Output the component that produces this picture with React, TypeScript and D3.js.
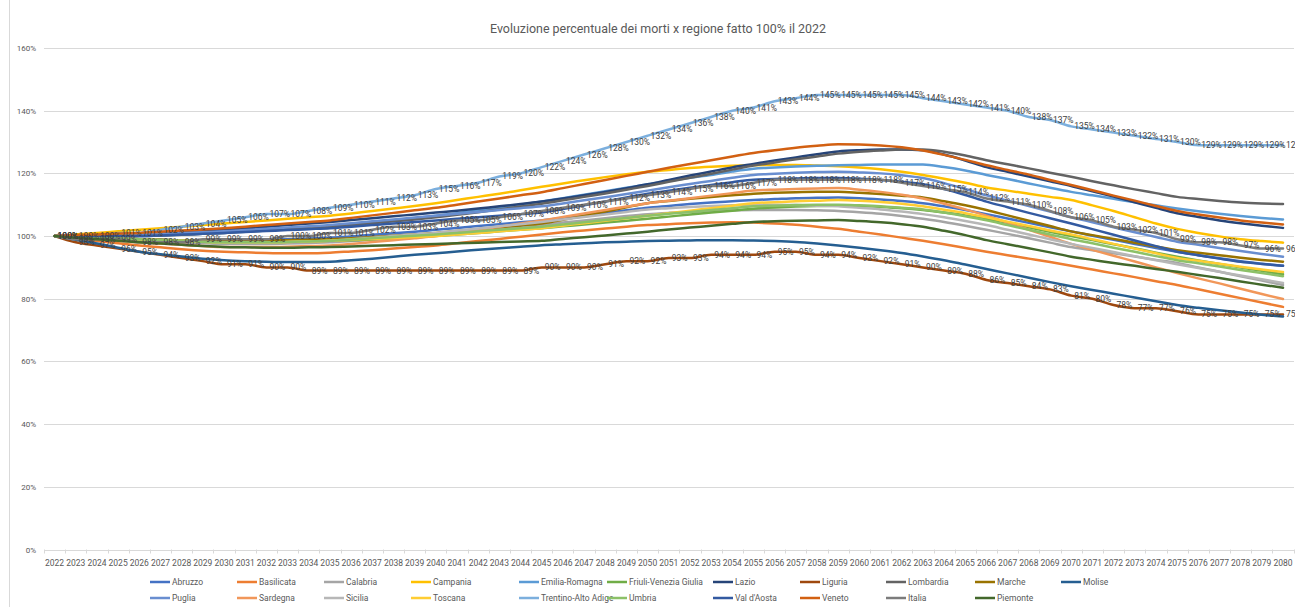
import { useEffect, useRef } from "react";
import * as d3 from "d3";

// Categories (years)
const years = [
  "2022", "2023", "2024", "2025", "2026", "2027", "2028", "2029", "2030", "2031",
  "2032", "2033", "2034", "2035", "2036", "2037", "2038", "2039", "2040", "2041",
  "2042", "2043", "2044", "2045", "2046", "2047", "2048", "2049", "2050", "2051",
  "2052", "2053", "2054", "2055", "2056", "2057", "2058", "2059", "2060", "2061",
  "2062", "2063", "2064", "2065", "2066", "2067", "2068", "2069", "2070", "2071",
  "2072", "2073", "2074", "2075", "2076", "2077", "2078", "2079", "2080",
];

const yTicks = [0, 20, 40, 60, 80, 100, 120, 140, 160];

// Series values (% of 2022)
const abruzzo = [100, 99.7, 99.4, 99.2, 99.0, 98.8, 98.6, 98.5, 98.5, 98.6, 98.8, 99.0, 99.2, 99.5, 99.9, 100.4, 100.9, 101.4, 102.0, 102.6, 103.2, 103.8, 104.4, 105.0, 105.8, 106.6, 107.4, 108.2, 109.0, 109.6, 110.2, 110.7, 111.1, 111.5, 111.8, 112.1, 112.2, 112.3, 112.1, 111.7, 111.2, 110.5, 109.5, 108.3, 107.0, 105.6, 104.2, 102.8, 101.5, 100.1, 98.8, 97.5, 96.2, 95.0, 93.9, 92.9, 92.0, 91.2, 90.5];
const basilicata = [100, 99.2, 98.4, 97.7, 97.0, 96.4, 95.8, 95.3, 95.0, 94.8, 94.6, 94.5, 94.5, 94.7, 95.1, 95.5, 96.0, 96.5, 97.0, 97.7, 98.4, 99.1, 99.8, 100.5, 101.2, 101.8, 102.4, 103.0, 103.5, 103.8, 104.1, 104.3, 104.4, 104.3, 104.0, 103.6, 103.0, 102.3, 101.4, 100.5, 99.5, 98.5, 97.4, 96.2, 95.0, 93.9, 92.8, 91.7, 90.5, 89.3, 88.1, 86.9, 85.6, 84.4, 83.0, 81.6, 80.2, 78.8, 77.4];
const calabria = [100, 99.6, 99.2, 98.9, 98.5, 98.2, 97.9, 97.7, 97.5, 97.5, 97.5, 97.6, 97.8, 98.0, 98.4, 98.8, 99.3, 99.8, 100.3, 100.9, 101.6, 102.2, 102.9, 103.5, 104.3, 105.0, 105.7, 106.4, 107.0, 107.4, 107.7, 108.0, 108.2, 108.3, 108.3, 108.3, 108.2, 108.0, 107.6, 107.1, 106.4, 105.5, 104.5, 103.3, 102.0, 100.7, 99.3, 97.9, 96.5, 95.5, 94.5, 93.5, 92.4, 91.4, 90.0, 88.6, 87.2, 85.8, 84.4];
const campania = [100, 100.5, 101.0, 101.5, 102.0, 102.5, 103.0, 103.5, 104.0, 104.5, 105.0, 105.5, 106.0, 106.5, 107.2, 108.0, 108.8, 109.6, 110.5, 111.5, 112.5, 113.5, 114.6, 115.7, 116.8, 117.8, 118.8, 119.7, 120.5, 121.1, 121.7, 122.1, 122.4, 122.6, 122.7, 122.7, 122.5, 122.3, 121.9, 121.3, 120.5, 119.5, 118.3, 117.0, 115.5, 114.5, 113.5, 112.5, 111.5, 109.8, 108.0, 106.0, 104.0, 102.3, 101.0, 99.9, 99.0, 98.4, 97.9];
const emilia = [100, 100.0, 100.0, 100.0, 100.0, 100.2, 100.4, 100.7, 101.0, 101.4, 101.8, 102.2, 102.6, 103.0, 103.6, 104.3, 105.0, 105.7, 106.5, 107.3, 108.2, 109.1, 110.0, 111.0, 112.1, 113.2, 114.3, 115.4, 116.5, 117.6, 118.6, 119.5, 120.6, 121.5, 121.9, 122.2, 122.4, 122.6, 122.7, 122.8, 122.8, 122.8, 122.0, 120.9, 119.5, 118.2, 116.8, 115.4, 114.1, 113.0, 111.9, 110.8, 109.8, 108.8, 107.9, 107.1, 106.4, 105.8, 105.3];
const friuli = [100, 99.7, 99.5, 99.2, 99.0, 98.8, 98.6, 98.5, 98.5, 98.4, 98.4, 98.4, 98.4, 98.5, 98.7, 98.9, 99.2, 99.6, 100.0, 100.5, 101.0, 101.5, 102.0, 102.5, 103.1, 103.7, 104.3, 104.9, 105.5, 106.2, 106.9, 107.5, 108.1, 108.7, 109.1, 109.4, 109.6, 109.7, 109.6, 109.3, 108.9, 108.3, 107.5, 106.6, 105.5, 104.2, 102.8, 101.4, 100.0, 98.7, 97.4, 96.1, 94.7, 93.4, 92.2, 91.1, 90.0, 88.9, 87.8];
const lazio = [100, 100.1, 100.2, 100.3, 100.5, 100.8, 101.1, 101.5, 102.0, 102.5, 103.0, 103.5, 104.0, 104.5, 105.1, 105.7, 106.3, 106.9, 107.5, 108.1, 108.8, 109.5, 110.2, 111.0, 112.0, 113.0, 114.1, 115.3, 116.5, 117.9, 119.3, 120.6, 121.9, 123.0, 124.1, 125.1, 126.1, 127.0, 127.4, 127.6, 127.6, 127.4, 126.0, 124.1, 122.0, 120.5, 119.0, 117.5, 116.0, 114.3, 112.6, 110.8, 109.0, 107.3, 106.1, 105.0, 104.1, 103.3, 102.6];
const liguria = [100, 98, 97, 96, 95, 94, 93, 92, 91, 91, 90, 90, 89, 89, 89, 89, 89, 89, 89, 89, 89, 89, 89, 90, 90, 90, 91, 92, 92, 93, 93, 94, 94, 94, 95, 95, 94, 94, 93, 92, 91, 90, 89, 88, 86, 85, 84, 83, 81, 80, 78, 77, 77, 76, 75, 75, 75, 75, 75];
const lombardia = [100, 100.0, 100.0, 100.0, 100.0, 100.2, 100.4, 100.7, 101.0, 101.4, 101.8, 102.2, 102.6, 103.0, 103.5, 104.1, 104.7, 105.3, 106.0, 106.8, 107.6, 108.5, 109.4, 110.3, 111.4, 112.5, 113.6, 114.8, 116.0, 117.3, 118.6, 119.9, 121.2, 122.5, 123.5, 124.5, 125.4, 126.3, 126.9, 127.3, 127.6, 127.6, 126.9, 125.7, 124.2, 122.9, 121.6, 120.2, 118.9, 117.5, 116.2, 114.9, 113.7, 112.5, 111.8, 111.2, 110.7, 110.4, 110.2];
const marche = [100, 99.7, 99.5, 99.2, 99.0, 98.8, 98.6, 98.5, 98.5, 98.5, 98.6, 98.7, 98.8, 99.0, 99.3, 99.7, 100.1, 100.5, 101.0, 101.6, 102.2, 102.8, 103.4, 104.0, 105.2, 106.5, 107.8, 109.2, 110.5, 111.2, 111.9, 112.5, 113.0, 113.5, 113.8, 114.0, 114.1, 114.1, 113.8, 113.4, 112.9, 112.3, 111.1, 109.8, 108.3, 106.6, 104.9, 103.2, 101.5, 100.3, 99.1, 97.9, 96.7, 95.5, 94.7, 93.9, 93.1, 92.4, 91.8];
const molise = [100, 98.8, 97.6, 96.3, 95.0, 94.2, 93.5, 92.8, 92.3, 92.0, 91.8, 91.7, 91.7, 91.8, 92.3, 92.8, 93.4, 94.0, 94.5, 95.1, 95.6, 96.1, 96.6, 97.1, 97.4, 97.7, 98.0, 98.2, 98.4, 98.5, 98.6, 98.7, 98.7, 98.6, 98.4, 98.1, 97.6, 97.0, 96.3, 95.5, 94.6, 93.5, 92.3, 90.9, 89.5, 88.1, 86.7, 85.3, 84.0, 82.8, 81.6, 80.4, 79.2, 78.0, 77.1, 76.3, 75.6, 74.9, 74.3];
const puglia = [100, 100.1, 100.2, 100.3, 100.5, 100.7, 101.0, 101.2, 101.5, 101.9, 102.3, 102.7, 103.1, 103.5, 104.1, 104.7, 105.3, 105.9, 106.5, 107.1, 107.7, 108.3, 108.9, 109.5, 110.4, 111.4, 112.4, 113.4, 114.5, 115.6, 116.6, 117.6, 118.6, 119.5, 119.9, 120.2, 120.4, 120.5, 120.3, 120.0, 119.4, 118.5, 116.9, 115.0, 113.0, 111.3, 109.6, 107.8, 106.0, 104.4, 102.8, 101.2, 99.7, 98.2, 97.2, 96.2, 95.2, 94.3, 93.4];
const sardegna = [100, 99.5, 99.0, 98.5, 98.0, 97.6, 97.2, 96.8, 96.5, 96.5, 96.5, 96.6, 96.8, 97.0, 97.5, 98.1, 98.7, 99.3, 100.0, 101.0, 102.0, 103.0, 104.0, 105.0, 106.1, 107.2, 108.3, 109.4, 110.5, 111.3, 112.1, 112.9, 113.7, 114.5, 114.8, 115.0, 115.2, 115.3, 114.8, 114.1, 113.2, 112.0, 110.3, 108.5, 106.5, 104.3, 102.0, 99.8, 97.5, 95.6, 93.7, 91.9, 90.0, 88.2, 86.5, 84.9, 83.2, 81.5, 79.9];
const sicilia = [100, 99.8, 99.5, 99.3, 99.0, 98.7, 98.5, 98.2, 98.0, 98.0, 98.0, 98.1, 98.3, 98.5, 99.0, 99.5, 100.0, 100.5, 101.0, 101.7, 102.4, 103.1, 103.8, 104.5, 105.3, 106.1, 106.9, 107.7, 108.5, 108.9, 109.3, 109.6, 109.8, 110.0, 110.0, 109.9, 109.7, 109.5, 109.0, 108.5, 107.8, 107.0, 106.0, 104.8, 103.5, 102.0, 100.5, 99.0, 97.5, 96.2, 94.9, 93.6, 92.3, 91.0, 89.8, 88.6, 87.4, 86.2, 85.0];
const toscana = [100, 99.7, 99.5, 99.2, 99.0, 98.7, 98.5, 98.2, 98.0, 98.0, 98.0, 98.1, 98.3, 98.5, 98.8, 99.1, 99.4, 99.7, 100.0, 100.5, 101.0, 101.5, 102.0, 102.5, 103.3, 104.1, 104.9, 105.7, 106.5, 107.3, 108.1, 108.9, 109.7, 110.5, 110.8, 111.1, 111.3, 111.5, 111.3, 110.9, 110.3, 109.5, 108.4, 107.3, 106.0, 104.6, 103.2, 101.8, 100.5, 99.0, 97.5, 96.0, 94.5, 93.0, 92.1, 91.2, 90.2, 89.3, 88.5];
const trentino = [100, 100, 100, 101, 101, 102, 103, 104, 105, 106, 107, 107, 108, 109, 110, 111, 112, 113, 115, 116, 117, 119, 120, 122, 124, 126, 128, 130, 132, 134, 136, 138, 140, 141, 143, 144, 145, 145, 145, 145, 145, 144, 143, 142, 141, 140, 138, 137, 135, 134, 133, 132, 131, 130, 129, 129, 129, 129, 129];
const umbria = [100, 99.7, 99.5, 99.2, 99.0, 98.7, 98.5, 98.2, 98.0, 98.0, 98.0, 98.1, 98.3, 98.5, 98.9, 99.3, 99.7, 100.1, 100.5, 101.0, 101.5, 102.0, 102.5, 103.0, 103.7, 104.4, 105.1, 105.8, 106.5, 107.1, 107.7, 108.3, 108.9, 109.5, 109.7, 109.9, 110.0, 110.0, 109.8, 109.5, 109.0, 108.5, 107.5, 106.3, 105.0, 103.5, 102.0, 100.5, 99.0, 97.7, 96.3, 95.0, 93.6, 92.3, 91.3, 90.3, 89.2, 88.2, 87.2];
const valdaosta = [100, 100.0, 100.0, 100.0, 100.0, 100.2, 100.5, 100.7, 101.0, 101.3, 101.6, 101.9, 102.2, 102.5, 103.0, 103.5, 104.0, 104.5, 105.0, 105.5, 106.0, 106.5, 107.0, 107.5, 108.6, 109.8, 111.0, 112.3, 113.5, 114.5, 115.4, 116.3, 117.2, 118.0, 118.2, 118.4, 118.5, 118.5, 118.3, 117.9, 117.3, 116.5, 115.0, 113.1, 111.0, 109.2, 107.4, 105.7, 104.0, 102.2, 100.4, 98.6, 96.8, 95.0, 93.9, 92.8, 91.8, 91.1, 90.5];
const veneto = [100, 100.3, 100.5, 100.8, 101.0, 101.4, 101.8, 102.1, 102.5, 103.0, 103.5, 104.0, 104.5, 105.0, 105.8, 106.6, 107.4, 108.2, 109.0, 110.0, 111.0, 112.0, 113.0, 114.0, 115.3, 116.6, 117.9, 119.2, 120.5, 121.8, 123.0, 124.2, 125.4, 126.5, 127.4, 128.2, 128.8, 129.3, 129.2, 128.9, 128.3, 127.3, 125.9, 124.3, 122.6, 121.1, 119.6, 117.9, 116.3, 114.6, 112.9, 111.3, 109.6, 108.0, 106.9, 105.9, 105.0, 104.3, 103.7];
const italia = [100, 99, 99, 99, 98, 98, 98, 99, 99, 99, 99, 100, 100, 101, 101, 102, 103, 103, 104, 105, 105, 106, 107, 108, 109, 110, 111, 112, 113, 114, 115, 116, 116, 117, 118, 118, 118, 118, 118, 118, 117, 116, 115, 114, 112, 111, 110, 108, 106, 105, 103, 102, 101, 99, 98, 98, 97, 96, 96];
const piemonte = [100, 99.5, 99.0, 98.5, 98.0, 97.6, 97.2, 96.8, 96.5, 96.4, 96.3, 96.3, 96.4, 96.5, 96.7, 96.9, 97.1, 97.3, 97.5, 97.7, 97.9, 98.1, 98.3, 98.5, 99.1, 99.6, 100.2, 100.8, 101.4, 102.1, 102.7, 103.3, 103.9, 104.5, 104.7, 104.9, 105.0, 105.1, 104.8, 104.4, 103.8, 103.0, 101.7, 100.3, 98.7, 97.4, 96.1, 94.8, 93.4, 92.4, 91.4, 90.5, 89.5, 88.6, 87.6, 86.6, 85.5, 84.5, 83.5];

// Legend order (two rows, as in the picture)
const series = [
  { name: "Abruzzo", values: abruzzo },
  { name: "Basilicata", values: basilicata },
  { name: "Calabria", values: calabria },
  { name: "Campania", values: campania },
  { name: "Emilia-Romagna", values: emilia },
  { name: "Friuli-Venezia Giulia", values: friuli },
  { name: "Lazio", values: lazio },
  { name: "Liguria", values: liguria },
  { name: "Lombardia", values: lombardia },
  { name: "Marche", values: marche },
  { name: "Molise", values: molise },
  { name: "Puglia", values: puglia },
  { name: "Sardegna", values: sardegna },
  { name: "Sicilia", values: sicilia },
  { name: "Toscana", values: toscana },
  { name: "Trentino-Alto Adige", values: trentino },
  { name: "Umbria", values: umbria },
  { name: "Val d'Aosta", values: valdaosta },
  { name: "Veneto", values: veneto },
  { name: "Italia", values: italia },
  { name: "Piemonte", values: piemonte },
];

const colors = {
  "Abruzzo": "#4472C4",
  "Basilicata": "#ED7D31",
  "Calabria": "#A5A5A5",
  "Campania": "#FFC000",
  "Emilia-Romagna": "#5B9BD5",
  "Friuli-Venezia Giulia": "#70AD47",
  "Lazio": "#264478",
  "Liguria": "#9E480E",
  "Lombardia": "#636363",
  "Marche": "#997300",
  "Molise": "#255E91",
  "Puglia": "#698ED0",
  "Sardegna": "#F1975A",
  "Sicilia": "#B7B7B7",
  "Toscana": "#FFCD33",
  "Trentino-Alto Adige": "#7CAFDD",
  "Umbria": "#8CC168",
  "Val d'Aosta": "#335AA1",
  "Veneto": "#D26012",
  "Italia": "#7C7C7C",
  "Piemonte": "#43682B",
};

// series that carry data labels
const labelled = ["Trentino-Alto Adige", "Italia", "Liguria"];

const width = 1295;
const height = 607;
const textColor = "#595959";
const font = "Roboto, 'Liberation Sans', sans-serif";

// legend column starts (line start), rows of 11 / 10
const legendCols = [150, 237, 324, 411, 519, 607, 713, 800, 886, 975, 1061];
const legendRows = [582, 598];

const drawChart = (node) => {
  const svg = d3.select(node);
  svg.selectAll("*").remove();

  svg.append("rect").attr("width", width).attr("height", height).attr("fill", "#fff");
  svg.append("line")
    .attr("x1", 9.5).attr("x2", 9.5).attr("y1", 0).attr("y2", height)
    .attr("stroke", "#d9d9d9");

  const x = d3.scaleBand().domain(years).range([44, 1293.6]);
  const cx = (yr) => x(yr) + x.bandwidth() / 2;
  const y = d3.scaleLinear().domain([0, 160]).range([549.5, 48]);

  // title
  svg.append("text")
    .attr("x", 658).attr("y", 33)
    .attr("text-anchor", "middle")
    .attr("font-family", font).attr("font-size", 13)
    .attr("fill", textColor)
    .attr("textLength", 336).attr("lengthAdjust", "spacingAndGlyphs")
    .text("Evoluzione percentuale dei morti x regione fatto 100% il 2022");

  // gridlines + y labels
  const grid = svg.append("g");
  grid.selectAll("line")
    .data(yTicks)
    .join("line")
    .attr("x1", 44).attr("x2", 1294)
    .attr("y1", d => Math.round(y(d)) + 0.5).attr("y2", d => Math.round(y(d)) + 0.5)
    .attr("stroke", "#d9d9d9").attr("stroke-width", 1);
  grid.selectAll("text")
    .data(yTicks)
    .join("text")
    .attr("x", 36).attr("y", d => y(d) + 3)
    .attr("text-anchor", "end")
    .attr("font-family", font).attr("font-size", 8)
    .attr("fill", textColor)
    .text(d => `${d}%`);

  // x axis ticks and labels
  const xa = svg.append("g");
  xa.selectAll("line")
    .data(years.concat(["end"]))
    .join("line")
    .attr("x1", (d, i) => Math.round(44 + i * x.bandwidth()) + 0.5)
    .attr("x2", (d, i) => Math.round(44 + i * x.bandwidth()) + 0.5)
    .attr("y1", y(0)).attr("y2", y(0) + 4)
    .attr("stroke", "#d9d9d9");
  xa.selectAll("text")
    .data(years)
    .join("text")
    .attr("x", d => cx(d)).attr("y", 566)
    .attr("text-anchor", "middle")
    .attr("font-family", font).attr("font-size", 8.5)
    .attr("fill", textColor)
    .text(d => d);

  // lines (smoothed, as in the original)
  const line = d3.line()
    .x((d, i) => cx(years[i]))
    .y(d => y(d))
    .curve(d3.curveMonotoneX);

  svg.append("g")
    .selectAll("path")
    .data(series)
    .join("path")
    .attr("d", d => line(d.values))
    .attr("fill", "none")
    .attr("stroke", d => colors[d.name])
    .attr("stroke-width", 2.5)
    .attr("stroke-linejoin", "round")
    .attr("stroke-linecap", "round");

  // data labels
  const lab = svg.append("g")
    .attr("font-family", font).attr("font-size", 8.5)
    .attr("fill", "#404040");
  series.filter(s => labelled.includes(s.name)).forEach(s => {
    lab.append("g")
      .selectAll("text")
      .data(s.values)
      .join("text")
      .attr("x", (d, i) => cx(years[i]) + 3)
      .attr("y", d => y(d))
      .attr("dy", "0.35em")
      .text(d => `${Math.round(d)}%`);
  });

  // legend
  const leg = svg.append("g");
  series.forEach((s, i) => {
    const row = i < 11 ? 0 : 1;
    const col = i < 11 ? i : i - 11;
    const lx = legendCols[col];
    const ly = legendRows[row];
    leg.append("line")
      .attr("x1", lx).attr("x2", lx + 20)
      .attr("y1", ly).attr("y2", ly)
      .attr("stroke", colors[s.name]).attr("stroke-width", 2.5);
    leg.append("text")
      .attr("x", lx + 22).attr("y", ly + 3)
      .attr("font-family", font).attr("font-size", 8.5)
      .attr("fill", textColor)
      .text(s.name);
  });
};

export default function App() {
  const ref = useRef(null);

  useEffect(() => {
    drawChart(ref.current);
  }, []);

  return (
    <div style={{ position: "absolute", left: 0, top: 0 }}>
      <svg ref={ref} width={width} height={height} style={{ display: "block" }} />
    </div>
  );
}
